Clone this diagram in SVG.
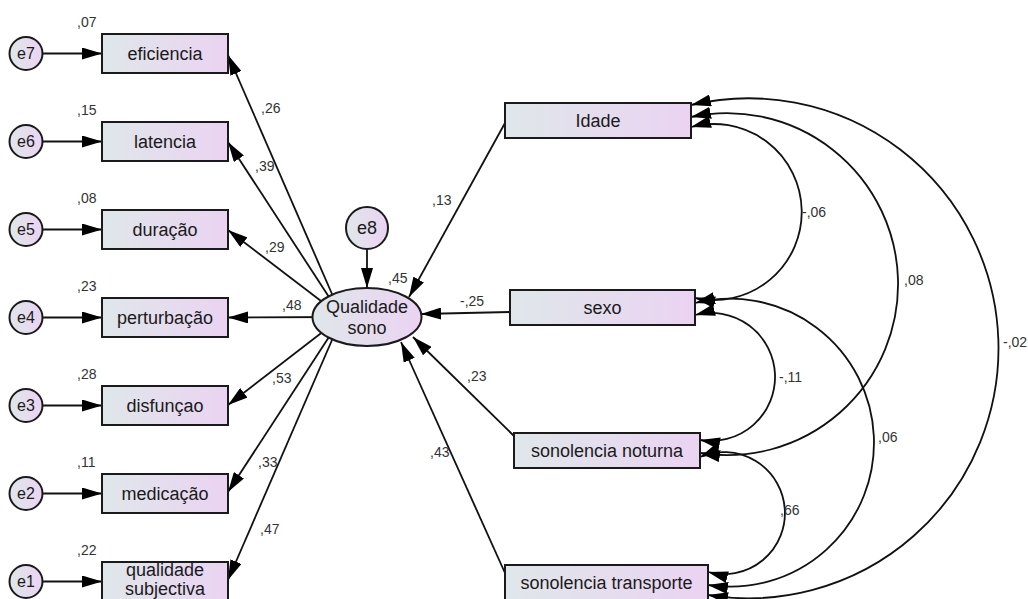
<svg xmlns="http://www.w3.org/2000/svg" width="1028" height="599" viewBox="0 0 1028 599">
  <style>
    .box { fill: url(#fillGrad); stroke: #1a1a1a; stroke-width: 2; }
    .lat { fill: url(#fillGrad); stroke: #1a1a1a; stroke-width: 2; }
    .nt { font-family: "Liberation Sans", Arial, sans-serif; font-size: 18px; fill: #1a1a1a; text-anchor: middle; }
    .et { font-family: "Liberation Sans", Arial, sans-serif; font-size: 16px; fill: #1a1a1a; text-anchor: middle; }
    .num { font-family: "Liberation Sans", Arial, sans-serif; font-size: 14px; fill: #333; }
    .path { fill: none; stroke: #111; stroke-width: 1.8; marker-end: url(#ah); }
    .cov { fill: none; stroke: #111; stroke-width: 1.8; marker-start: url(#ah); marker-end: url(#ah); }
  </style>
  <defs>
    <linearGradient id="fillGrad" x1="0" y1="0" x2="1" y2="0">
      <stop offset="0" stop-color="#dfe7ea"/>
      <stop offset="1" stop-color="#ebd3f2"/>
    </linearGradient>
    <marker id="ah" viewBox="0 0 20 12" refX="20" refY="6" markerWidth="20" markerHeight="12" markerUnits="userSpaceOnUse" orient="auto-start-reverse">
      <path d="M0,0 L20,6 L0,12 z" fill="#000"/>
    </marker>
  </defs>

  <rect width="1028" height="599" fill="#fff"/>

  <!-- connectors -->
  <g id="connectors">
    <!-- error terms to indicators -->
    <line class="path" x1="43" y1="53.5" x2="102" y2="53.5"/>
    <line class="path" x1="43" y1="141.5" x2="102" y2="141.5"/>
    <line class="path" x1="43" y1="229.5" x2="102" y2="229.5"/>
    <line class="path" x1="43" y1="317.5" x2="102" y2="317.5"/>
    <line class="path" x1="43" y1="405.5" x2="102" y2="405.5"/>
    <line class="path" x1="43" y1="493.5" x2="102" y2="493.5"/>
    <line class="path" x1="43" y1="581.5" x2="102" y2="581.5"/>
    <!-- latent factor to indicators -->
    <line class="path" x1="342" y1="317" x2="228" y2="55"/>
    <line class="path" x1="342" y1="317" x2="228" y2="142"/>
    <line class="path" x1="342" y1="317" x2="228" y2="230"/>
    <line class="path" x1="342" y1="317" x2="228" y2="317.5"/>
    <line class="path" x1="342" y1="317" x2="228" y2="405"/>
    <line class="path" x1="342" y1="317" x2="228" y2="492"/>
    <line class="path" x1="342" y1="317" x2="228" y2="580"/>
    <!-- residual -->
    <line class="path" x1="367" y1="249" x2="367" y2="288"/>
    <!-- predictors to latent factor -->
    <line class="path" x1="505" y1="123" x2="409" y2="297"/>
    <line class="path" x1="510" y1="312" x2="421" y2="314"/>
    <line class="path" x1="514" y1="436" x2="413" y2="337"/>
    <line class="path" x1="505" y1="573" x2="401" y2="342"/>
    <!-- covariances -->
    <path class="cov" d="M691,105 A250,250 0 1 1 708,595"/>
    <path class="cov" d="M691,117 A171,171 0 1 1 700,453"/>
    <path class="cov" d="M691,127 A88,88 0 1 1 695,298"/>
    <path class="cov" d="M695,303 A144,144 0 1 1 708,585"/>
    <path class="cov" d="M695,315 A64,64 0 1 1 700,440"/>
    <path class="cov" d="M700,457 A61,61 0 1 1 708,572"/>
  </g>

  <!-- coefficient labels -->
  <g id="labels">
    <text class="num" x="77" y="27">,07</text>
    <text class="num" x="77" y="115">,15</text>
    <text class="num" x="77" y="203">,08</text>
    <text class="num" x="77" y="291">,23</text>
    <text class="num" x="77" y="379">,28</text>
    <text class="num" x="77" y="467">,11</text>
    <text class="num" x="77" y="555">,22</text>
    <text class="num" x="261" y="113">,26</text>
    <text class="num" x="255" y="171">,39</text>
    <text class="num" x="265" y="252">,29</text>
    <text class="num" x="282" y="310">,48</text>
    <text class="num" x="272" y="383">,53</text>
    <text class="num" x="258" y="467">,33</text>
    <text class="num" x="260" y="534">,47</text>
    <text class="num" x="388" y="283">,45</text>
    <text class="num" x="432" y="205">,13</text>
    <text class="num" x="460" y="306">-,25</text>
    <text class="num" x="467" y="381">,23</text>
    <text class="num" x="430" y="457">,43</text>
    <text class="num" x="802" y="217">-,06</text>
    <text class="num" x="904" y="285">,08</text>
    <text class="num" x="1003" y="347">-,02</text>
    <text class="num" x="779" y="382">-,11</text>
    <text class="num" x="878" y="442">,06</text>
    <text class="num" x="780" y="515">,66</text>
  </g>

  <!-- error terms -->
  <g id="e7"><circle class="lat" cx="26" cy="53.5" r="16.5"/><text class="et" x="26" y="59">e7</text></g>
  <g id="e6"><circle class="lat" cx="26" cy="141.5" r="16.5"/><text class="et" x="26" y="147">e6</text></g>
  <g id="e5"><circle class="lat" cx="26" cy="229.5" r="16.5"/><text class="et" x="26" y="235">e5</text></g>
  <g id="e4"><circle class="lat" cx="26" cy="317.5" r="16.5"/><text class="et" x="26" y="323">e4</text></g>
  <g id="e3"><circle class="lat" cx="26" cy="405.5" r="16.5"/><text class="et" x="26" y="411">e3</text></g>
  <g id="e2"><circle class="lat" cx="26" cy="493.5" r="16.5"/><text class="et" x="26" y="499">e2</text></g>
  <g id="e1"><circle class="lat" cx="26" cy="581.5" r="16.5"/><text class="et" x="26" y="587">e1</text></g>

  <!-- indicators -->
  <g id="eficiencia"><rect class="box" x="102" y="34" width="126" height="39"/><text class="nt" x="165" y="60">eficiencia</text></g>
  <g id="latencia"><rect class="box" x="102" y="122" width="126" height="39"/><text class="nt" x="165" y="148">latencia</text></g>
  <g id="duracao"><rect class="box" x="102" y="210" width="126" height="39"/><text class="nt" x="165" y="236">duração</text></g>
  <g id="perturbacao"><rect class="box" x="102" y="298" width="126" height="39"/><text class="nt" x="165" y="324">perturbação</text></g>
  <g id="disfuncao"><rect class="box" x="102" y="386" width="126" height="39"/><text class="nt" x="165" y="412">disfunçao</text></g>
  <g id="medicacao"><rect class="box" x="102" y="474" width="126" height="39"/><text class="nt" x="165" y="500">medicação</text></g>
  <g id="qualidade-subjectiva"><rect class="box" x="102" y="562" width="126" height="39"/><text class="nt" x="165" y="576">qualidade</text><text class="nt" x="165" y="595">subjectiva</text></g>

  <!-- latent factor and residual -->
  <g id="e8"><circle class="lat" cx="367" cy="228" r="21"/><text class="nt" x="367" y="234">e8</text></g>
  <g id="qualidade-sono"><ellipse class="lat" cx="367" cy="317" rx="54.5" ry="29"/><text class="nt" x="367" y="313">Qualidade</text><text class="nt" x="367" y="334">sono</text></g>

  <!-- predictors -->
  <g id="idade"><rect class="box" x="505" y="103" width="186" height="35"/><text class="nt" x="598" y="127">Idade</text></g>
  <g id="sexo"><rect class="box" x="510" y="290" width="185" height="35"/><text class="nt" x="602.5" y="314">sexo</text></g>
  <g id="sonolencia-noturna"><rect class="box" x="514" y="433" width="186" height="35"/><text class="nt" x="607" y="457">sonolencia noturna</text></g>
  <g id="sonolencia-transporte"><rect class="box" x="505" y="565" width="203" height="36"/><text class="nt" x="606.5" y="589">sonolencia transporte</text></g>
</svg>
